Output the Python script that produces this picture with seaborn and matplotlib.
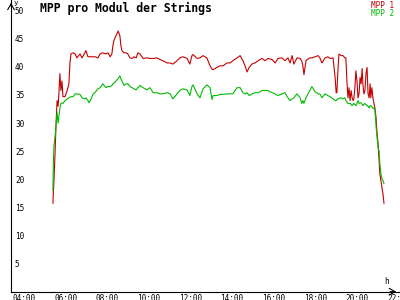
import matplotlib
matplotlib.use("Agg")
import matplotlib.pyplot as plt
import matplotlib.transforms as mtransforms
import seaborn as sns
import pandas as pd

times = ["05:48", "05:49", "05:51", "05:54", "05:57", "06:00", "06:03", "06:05", "06:08", "06:11",
         "06:14", "06:17", "06:23", "06:29", "06:34", "06:37", "06:40", "06:46", "06:52", "06:57",
         "07:06", "07:12", "07:20", "07:23", "07:29", "07:32", "07:38", "07:44", "07:49", "07:58",
         "08:04", "08:12", "08:21", "08:27", "08:33", "08:38", "08:41", "08:44", "08:50", "08:53",
         "08:56", "09:01", "09:04", "09:07", "09:13", "09:19", "09:24", "09:30", "09:36", "09:42",
         "09:48", "09:53", "09:59", "10:08", "10:19", "10:28", "10:37", "10:48", "10:57", "11:05",
         "11:17", "11:26", "11:34", "11:46", "11:54", "12:03", "12:15", "12:23", "12:29", "12:32",
         "12:44", "12:52", "13:01", "13:12", "13:21", "13:27", "13:30", "13:41", "13:50", "13:59",
         "14:10", "14:19", "14:27", "14:39", "14:48", "14:56", "15:02", "15:08", "15:14", "15:22",
         "15:31", "15:40", "15:51", "16:00", "16:08", "16:20", "16:29", "16:37", "16:49", "16:57",
         "17:06", "17:12", "17:18", "17:23", "17:32", "17:41", "17:46", "17:49", "17:52", "17:58",
         "18:04", "18:09", "18:15", "18:24", "18:33", "18:38", "18:44", "18:53", "19:01", "19:07",
         "19:16", "19:22", "19:25", "19:27", "19:30", "19:33", "19:39", "19:45", "19:50", "19:53",
         "19:56", "19:59", "20:02", "20:05", "20:08", "20:11", "20:14", "20:16", "20:19", "20:22",
         "20:25", "20:28", "20:31", "20:34", "20:37", "20:40", "20:42", "20:45", "20:48", "20:51",
         "20:54", "20:57", "21:00", "21:03", "21:05", "21:08", "21:11", "21:14", "21:17", "21:20",
         "21:23", "21:26", "21:29", "21:31", "21:34", "21:37", "21:40", "21:43"]

mpp1 = [15.7, 17.5, 19.8, 24.5, 30.0, 34.0, 33.0, 35.0, 38.8, 35.8,
        37.5, 34.7, 34.7, 35.8, 37.0, 40.6, 42.3, 42.5, 42.3, 41.6,
        42.3, 41.6, 42.5, 42.9, 41.8, 41.8, 41.8, 41.8, 41.8, 41.6,
        42.3, 42.5, 42.3, 42.5, 41.8, 42.3, 43.8, 44.7, 45.6, 45.9,
        46.4, 45.6, 43.8, 42.9, 42.5, 42.5, 42.3, 41.6, 41.5, 41.8,
        41.6, 42.5, 42.3, 41.5, 41.6, 41.5, 41.5, 41.6, 41.3, 41.1,
        40.7, 40.7, 40.5, 41.1, 41.6, 41.8, 41.5, 40.5, 42.0, 42.2,
        41.5, 41.6, 42.0, 41.6, 40.2, 39.6, 39.5, 39.9, 40.2, 40.2,
        40.7, 40.7, 41.1, 41.6, 42.0, 41.1, 40.2, 39.1, 39.9, 40.5,
        40.7, 41.1, 41.5, 41.1, 41.5, 41.3, 40.7, 41.5, 41.6, 41.1,
        41.6, 40.7, 42.0, 40.5, 41.6, 41.5, 41.0, 40.2, 38.6, 41.1,
        41.4, 41.6, 41.6, 41.8, 42.0, 41.6, 40.7, 41.6, 41.8, 41.5,
        41.6, 38.1, 35.4, 35.4, 39.3, 42.3, 42.0, 42.0, 41.6, 41.6,
        37.5, 34.5, 36.3, 34.0, 35.8, 34.5, 34.0, 34.3, 36.3, 39.3,
        37.5, 34.5, 35.2, 38.1, 37.0, 39.7, 37.0, 35.2, 35.8, 38.8,
        39.9, 35.2, 34.5, 37.0, 34.5, 36.3, 34.5, 33.5, 32.6, 31.0,
        28.1, 26.3, 23.3, 21.0, 19.8, 18.5, 17.4, 15.7]

mpp2 = [18.0, 22.5, 26.0, 27.5, 29.5, 31.8, 30.0, 31.0, 32.6, 33.5,
        33.6, 33.5, 34.0, 34.3, 34.5, 34.6, 34.7, 34.7, 35.2, 35.2,
        35.1, 34.5, 34.3, 34.5, 34.0, 33.6, 34.3, 35.2, 35.4, 36.1,
        36.3, 37.0, 36.3, 36.5, 36.5, 36.7, 37.0, 37.1, 37.5, 37.7,
        37.9, 38.4, 37.9, 37.5, 36.7, 37.0, 37.0, 36.5, 36.3, 36.1,
        35.9, 36.3, 36.7, 36.3, 35.9, 36.3, 35.4, 35.4, 35.2, 35.2,
        35.4, 35.2, 34.3, 35.2, 35.8, 36.1, 35.9, 34.9, 36.5, 36.8,
        35.2, 34.5, 36.1, 36.8, 36.3, 34.2, 34.9, 34.9, 35.1, 35.1,
        35.2, 35.2, 35.2, 36.3, 36.3, 35.4, 35.2, 35.4, 34.9, 35.2,
        35.4, 35.4, 35.8, 35.8, 35.8, 35.4, 35.2, 34.9, 35.2, 35.4,
        34.5, 34.0, 34.3, 34.5, 35.2, 34.5, 33.5, 34.0, 33.5, 34.5,
        35.2, 35.8, 36.5, 35.6, 35.2, 35.2, 34.5, 35.2, 34.9, 34.7,
        34.3, 34.0, 34.0, 34.2, 34.3, 34.4, 34.5, 34.3, 34.5, 34.0,
        33.8, 33.5, 33.5, 33.5, 33.3, 33.1, 33.3, 33.5, 33.3, 33.1,
        33.5, 34.0, 33.5, 33.6, 33.6, 33.3, 33.1, 33.3, 33.5, 33.3,
        33.1, 33.0, 32.7, 33.1, 33.1, 32.9, 32.6, 32.7, 32.2, 29.5,
        27.4, 25.6, 25.0, 22.8, 21.0, 20.1, 19.8, 19.2]

series_names = ["MPP 1", "MPP 2"]
series_colors = ["#c40000", "#00bb00"]
x_ticks = [4, 6, 8, 10, 12, 14, 16, 18, 20, 22]
x_tick_labels = ["04:00", "06:00", "08:00", "10:00", "12:00", "14:00", "16:00", "18:00", "20:00", "22:00"]
y_ticks = [5, 10, 15, 20, 25, 30, 35, 40, 45, 50]
title = "MPP pro Modul der Strings"

sns.set_theme(style="white")
plt.rcParams['font.family'] = ['DejaVu Sans Mono', 'DejaVu Sans']

hours = [int(t[:2]) + int(t[3:]) / 60 for t in times]
df = pd.DataFrame({
    "hour": hours * 2,
    "value": mpp1 + mpp2,
    "series": [series_names[0]] * len(times) + [series_names[1]] * len(times),
})

fig = plt.figure(figsize=(4, 3), dpi=100)
fig.patch.set_facecolor("white")
ax = fig.add_axes([11 / 400, 8.3 / 300, 388 / 400, 291.7 / 300])
ax.set_facecolor("white")

sns.lineplot(data=df, x="hour", y="value", hue="series",
             palette=dict(zip(series_names, series_colors)),
             legend=False, linewidth=0.8, ax=ax)

ax.set_xlim(3.7837, 22.4375)
ax.set_ylim(0, 51.9)
ax.set_xlabel("")
ax.set_ylabel("")

for s in ["top", "right"]:
    ax.spines[s].set_visible(False)
for s in ["left", "bottom"]:
    ax.spines[s].set_color("black")
    ax.spines[s].set_linewidth(0.8)

ax.set_xticks(x_ticks, labels=x_tick_labels)
ax.set_yticks(y_ticks, labels=[str(v) for v in y_ticks])
ax.tick_params(axis="both", direction="inout", length=4.3, width=0.8,
               color="black", labelcolor="black", labelsize=5.6)
ax.tick_params(axis="y", pad=-5.0)
ax.tick_params(axis="x", pad=-0.3)
for lbl in ax.get_yticklabels():
    lbl.set_horizontalalignment("left")
shift = mtransforms.ScaledTranslation(-3 / 100, 0, fig.dpi_scale_trans)
for lbl in ax.get_xticklabels():
    lbl.set_horizontalalignment("left")
    lbl.set_transform(lbl.get_transform() + shift)

# axis arrows
ax.annotate("", xy=(1.0, 0), xytext=(0.97, 0), xycoords="axes fraction",
            arrowprops=dict(arrowstyle="->,head_length=0.35,head_width=0.2", lw=0.8, color="black"),
            annotation_clip=False)
ax.annotate("", xy=(0, 1.0), xytext=(0, 0.97), xycoords="axes fraction",
            arrowprops=dict(arrowstyle="->,head_length=0.35,head_width=0.2", lw=0.8, color="black"),
            annotation_clip=False)

fig.text(14 / 400, 1 - 0.5 / 300, "y", ha="left", va="top", fontsize=5.4, color="black")
fig.text(384 / 400, 1 - 277 / 300, "h", ha="left", va="top", fontsize=5.6, color="black")
fig.text(40 / 400, 1 - 2 / 300, title, ha="left", va="top", fontsize=8.3,
         fontweight="bold", color="black")
fig.text(394 / 400, 1 - 0.5 / 300, series_names[0], ha="right", va="top",
         fontsize=5.5, color=series_colors[0])
fig.text(394 / 400, 1 - 8.5 / 300, series_names[1], ha="right", va="top",
         fontsize=5.5, color=series_colors[1])

fig.savefig("out.png", dpi=100)
